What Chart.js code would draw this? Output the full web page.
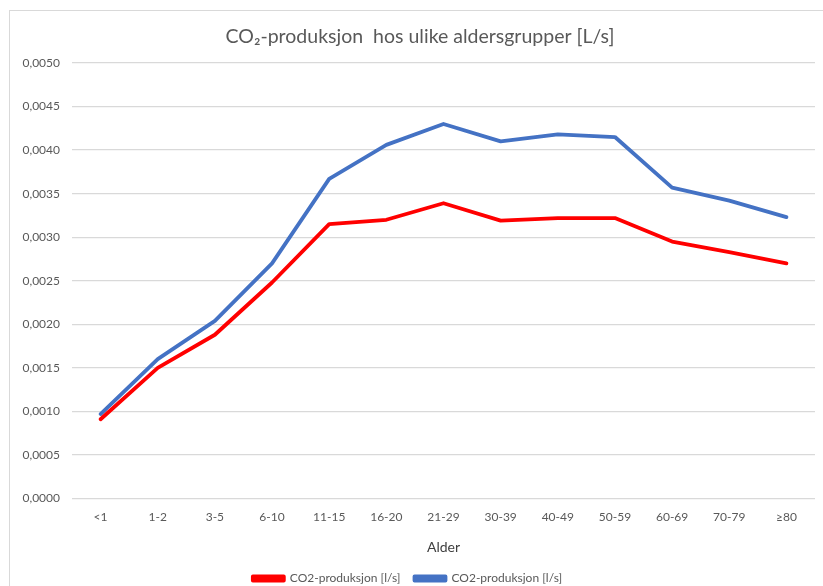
<!DOCTYPE html>
<html>
<head>
<meta charset="utf-8">
<script src="https://cdn.jsdelivr.net/npm/chart.js@4/dist/chart.umd.min.js"></script>
<style>
html,body{margin:0;padding:0;background:#fff;}
canvas{display:block;}
</style>
</head>
<body>
<canvas id="c" width="823" height="586"></canvas>
<script>
const categories = ['<1','1-2','3-5','6-10','11-15','16-20','21-29','30-39','40-49','50-59','60-69','70-79','≥80'];
const redSeries  = [0.00091,0.00150,0.00188,0.00248,0.00315,0.00320,0.00339,0.00319,0.00322,0.00322,0.00295,0.00283,0.00270];
const blueSeries = [0.00097,0.00160,0.00204,0.00270,0.00367,0.00406,0.00430,0.00410,0.00418,0.00415,0.00357,0.00342,0.00323];
const seriesNames = ['CO2-produksjon [l/s]','CO2-produksjon [l/s]'];
const titleText = 'CO₂-produksjon  hos ulike aldersgrupper [L/s]';
const xTitle = 'Alder';

const FONT = 'Lato, "Open Sans", "DejaVu Sans", sans-serif';
const GREY = '#595959';

const framePlugin = {
  id: 'frame',
  afterLayout(chart) {
    // centre the title over the framed chart region
    if (chart.titleBlock) chart.titleBlock.left = 25;
  },
  beforeDraw(chart) {
    const ctx = chart.ctx;
    ctx.save();
    ctx.fillStyle = '#fff';
    ctx.fillRect(0, 0, chart.width, chart.height);
    ctx.strokeStyle = '#d9d9d9';
    ctx.lineWidth = 1;
    ctx.strokeRect(9.5, 10.5, 900, 700);
    ctx.restore();
  }
};

new Chart(document.getElementById('c'), {
  type: 'line',
  data: {
    labels: categories,
    datasets: [
      {label: seriesNames[0], data: redSeries, borderColor: '#ff0000', backgroundColor: '#ff0000',
       borderWidth: 3.8, pointRadius: 0, tension: 0, borderJoinStyle: 'round', borderCapStyle: 'round'},
      {label: seriesNames[1], data: blueSeries, borderColor: '#4472c4', backgroundColor: '#4472c4',
       borderWidth: 3.8, pointRadius: 0, tension: 0, borderJoinStyle: 'round', borderCapStyle: 'round'}
    ]
  },
  options: {
    responsive: false,
    animation: false,
    layout: {padding: {left: 0, right: 8, top: 0, bottom: -8.5}},
    plugins: {
      title: {display: true, text: titleText, color: GREY,
        font: {family: FONT, size: 19.5, weight: 'normal'}, padding: {top: 25, bottom: 14.6}},
      legend: {position: 'bottom',
        labels: {boxWidth: 31, boxHeight: 4, color: GREY, padding: 14,
          font: {family: FONT, size: 12}}},
      tooltip: {enabled: false}
    },
    scales: {
      x: {
        offset: true,
        grid: {display: false, drawTicks: false, offset: true},
        border: {display: false},
        ticks: {color: GREY, font: {family: FONT, size: 12}, padding: 11, maxRotation: 0, autoSkip: false},
        title: {display: true, text: xTitle, color: '#404040', font: {family: FONT, size: 14}, padding: {top: 4, bottom: 3}},
        afterFit(s) { s.height = 60; }
      },
      y: {
        min: 0, max: 0.005,
        grid: {color: '#d9d9d9', lineWidth: 1.3, drawTicks: false},
        border: {display: false},
        ticks: {stepSize: 0.0005, color: GREY, font: {family: FONT, size: 12}, padding: 12,
          callback: v => Number(v).toFixed(4).replace('.', ',')},
        afterFit(s) { s.width = 72; }
      }
    }
  },
  plugins: [framePlugin]
});
</script>
</body>
</html>
